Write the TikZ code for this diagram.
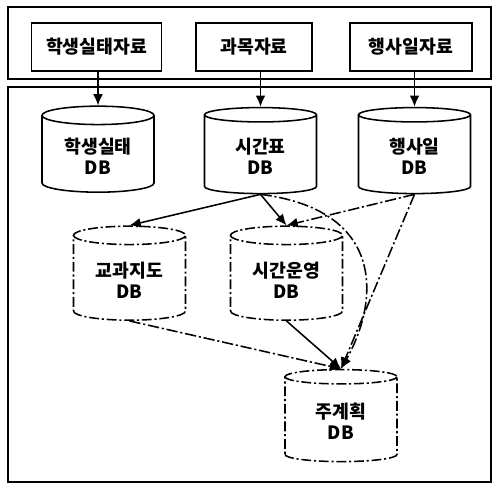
\documentclass[tikz,border=0pt]{standalone}
\usepackage{fontspec}
\newfontfamily\kr{Noto Sans CJK KR}
\usetikzlibrary{arrows.meta,shapes.geometric,positioning}

\tikzset{
  src/.style={draw, line width=1.2pt, minimum width=#1, minimum height=1.2cm,
    inner sep=2pt, font=\kr\bfseries\fontsize{13}{15}\selectfont},
  db/.style={cylinder, shape border rotate=90, aspect=0.24, draw, line width=1.1pt,
    minimum width=2.8cm, minimum height=2.15cm, align=center,
    font=\kr\bfseries\fontsize{13}{15}\selectfont},
  dbdash/.style={db, dash pattern=on 7pt off 2pt on 1.5pt off 2pt},
  flow/.style={-{Latex[length=8pt,width=7pt]}, line width=1.1pt},
  flowdash/.style={flow, dash pattern=on 8pt off 2pt on 1.5pt off 2pt},
}

\begin{document}
\begin{tikzpicture}[x=0.025cm, y=-0.025cm]
\useasboundingbox (0,0) rectangle (494,485);

% two frames
\draw[line width=1pt] (8,7) rectangle (491,79);
\draw[line width=1pt] (8,87) rectangle (491,482);

% input data
\node[src=3.25cm] (s1) at (96.5,47) {학생실태자료};
\node[src=2.9cm] (s2) at (254,47) {과목자료};
\node[src=3.05cm] (s3) at (411,47) {행사일자료};

% base databases
\node[db] (c1) at (98,156) {학생실태\\DB};
\node[db] (c2) at (260.5,156) {시간표\\DB};
\node[db] (c3) at (414.5,156) {행사일\\DB};

% derived databases
\node[dbdash, minimum height=2.35cm] (c4) at (129.5,280) {교과지도\\DB};
\node[dbdash, minimum height=2.35cm] (c5) at (286.5,280) {시간운영\\DB};
\node[dbdash, minimum height=2.3cm] (c6) at (341,421) {주계획\\DB};

\draw[flow] (c1.north |- s1.south) -- (c1.north);
\draw[flow] (c2.north |- s2.south) -- (c2.north);
\draw[flow] (c3.north |- s3.south) -- (c3.north);

\draw[flow] (c2.south) -- (c4.north);
\draw[flow] (c2.south) -- (c5.north);
\draw[flowdash] (c3.south) -- (c5.north);

\draw[flowdash] (c2.south) .. controls (385,210) and (380,300) .. (c6.north);
\draw[flowdash] (c3.south) -- (c6.north);
\draw[flowdash] (c4.south) -- (c6.north);
\draw[flow] (c5.south) -- (c6.north);
\end{tikzpicture}
\end{document}
